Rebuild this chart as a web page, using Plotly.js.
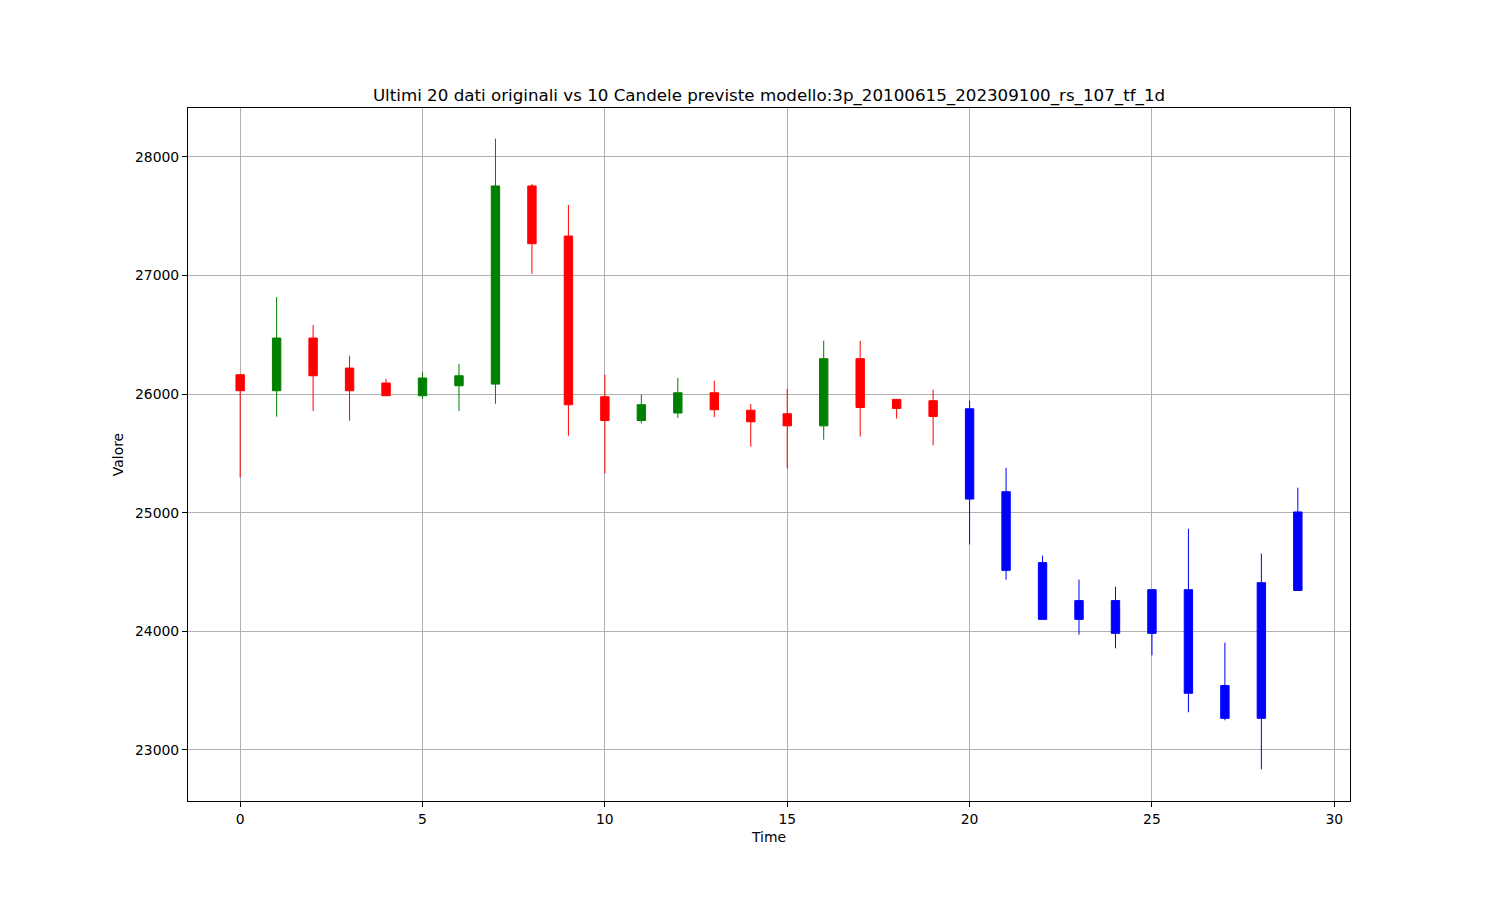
<!DOCTYPE html>
<html>
<head>
<meta charset="utf-8">
<script src="https://cdn.plot.ly/plotly-3.0.1.min.js"></script>
<style>html,body{margin:0;padding:0;background:#fff;}#chart{width:1500px;height:900px;}</style>
</head>
<body>
<div id="chart"></div>
<script>
// Historical candles (last 20 original data)
const histTime  = [0,1,2,3,4,5,6,7,8,9,10,11,12,13,14,15,16,17,18,19];
const histOpen  = [26163,26028,26472,26219,26093,25986,26070,26084,27754,27332,25977,25777,25840,26011,25864,25834,25732,26298,25955,25944];
const histHigh  = [26163,26818,26582,26323,26129,26185,26255,28153,27771,27594,26163,25994,26137,26112,25915,26045,26449,26449,25958,26036];
const histLow   = [25298,25809,25857,25775,25983,25960,25857,25918,27014,25648,25330,25752,25800,25806,25558,25373,25615,25642,25794,25566];
const histClose = [26028,26472,26154,26028,25986,26135,26154,27754,27267,25910,25777,25910,26011,25868,25766,25732,26298,25887,25879,25811];

// Predicted candles (10)
const predTime  = [20,21,22,23,24,25,26,27,28,29];
const predOpen  = [25876,25177,24579,24259,24259,24351,24351,23543,23267,24345];
const predHigh  = [25944,25379,24638,24436,24377,24351,24865,23905,24655,25211];
const predLow   = [24733,24436,24101,23972,23857,23798,23318,23250,22837,24345];
const predClose = [25115,24514,24101,24101,23983,23983,23478,23267,24410,25006];

const xTicks = [0,5,10,15,20,25,30];
const yTicks = [23000,24000,25000,26000,27000,28000];

const FONT = 'DejaVu Sans, sans-serif';

const traces = [
  {
    type: 'candlestick',
    x: histTime, open: histOpen, high: histHigh, low: histLow, close: histClose,
    increasing: {line: {color: 'green', width: 1}, fillcolor: 'green'},
    decreasing: {line: {color: 'red', width: 1}, fillcolor: 'red'},
    whiskerwidth: 0,
    showlegend: false,
    name: 'Originali'
  },
  {
    type: 'candlestick',
    x: predTime, open: predOpen, high: predHigh, low: predLow, close: predClose,
    increasing: {line: {color: 'blue', width: 1}, fillcolor: 'blue'},
    decreasing: {line: {color: 'blue', width: 1}, fillcolor: 'blue'},
    whiskerwidth: 0,
    showlegend: false,
    name: 'Previste'
  }
];

const axisCommon = {
  showline: true, linecolor: 'black', linewidth: 1, mirror: true,
  ticks: 'outside', ticklen: 5, tickwidth: 1, tickcolor: 'black',
  showgrid: true, gridcolor: '#b0b0b0', gridwidth: 1,
  zeroline: false,
  tickfont: {family: FONT, size: 13.9, color: 'black'}
};

const layout = {
  width: 1500, height: 900,
  paper_bgcolor: 'white', plot_bgcolor: 'white',
  margin: {l: 188, r: 150, t: 108, b: 99},
  boxmode: 'overlay',
  boxgap: 0.77,
  boxgroupgap: 0,
  font: {family: FONT, color: 'black'},
  title: {
    text: 'Ultimi 20 dati originali vs 10 Candele previste modello:3p_20100615_202309100_rs_107_tf_1d',
    font: {family: FONT, size: 16.7, color: 'black'},
    x: 0.5, xref: 'paper', xanchor: 'center',
    y: 1, yref: 'paper', yanchor: 'bottom',
    pad: {b: 7}
  },
  xaxis: Object.assign({}, axisCommon, {
    range: [-1.43, 30.43],
    tickvals: xTicks, ticktext: xTicks.map(String),
    rangeslider: {visible: false},
    title: {text: 'Time', font: {family: FONT, size: 13.9, color: 'black'}, standoff: 6}
  }),
  yaxis: Object.assign({}, axisCommon, {
    range: [22570, 28411],
    tickvals: yTicks, ticktext: yTicks.map(String),
    title: {text: 'Valore', font: {family: FONT, size: 13.9, color: 'black'}, standoff: 8}
  })
};

Plotly.newPlot('chart', traces, layout, {displayModeBar: false, staticPlot: true});
</script>
</body>
</html>
